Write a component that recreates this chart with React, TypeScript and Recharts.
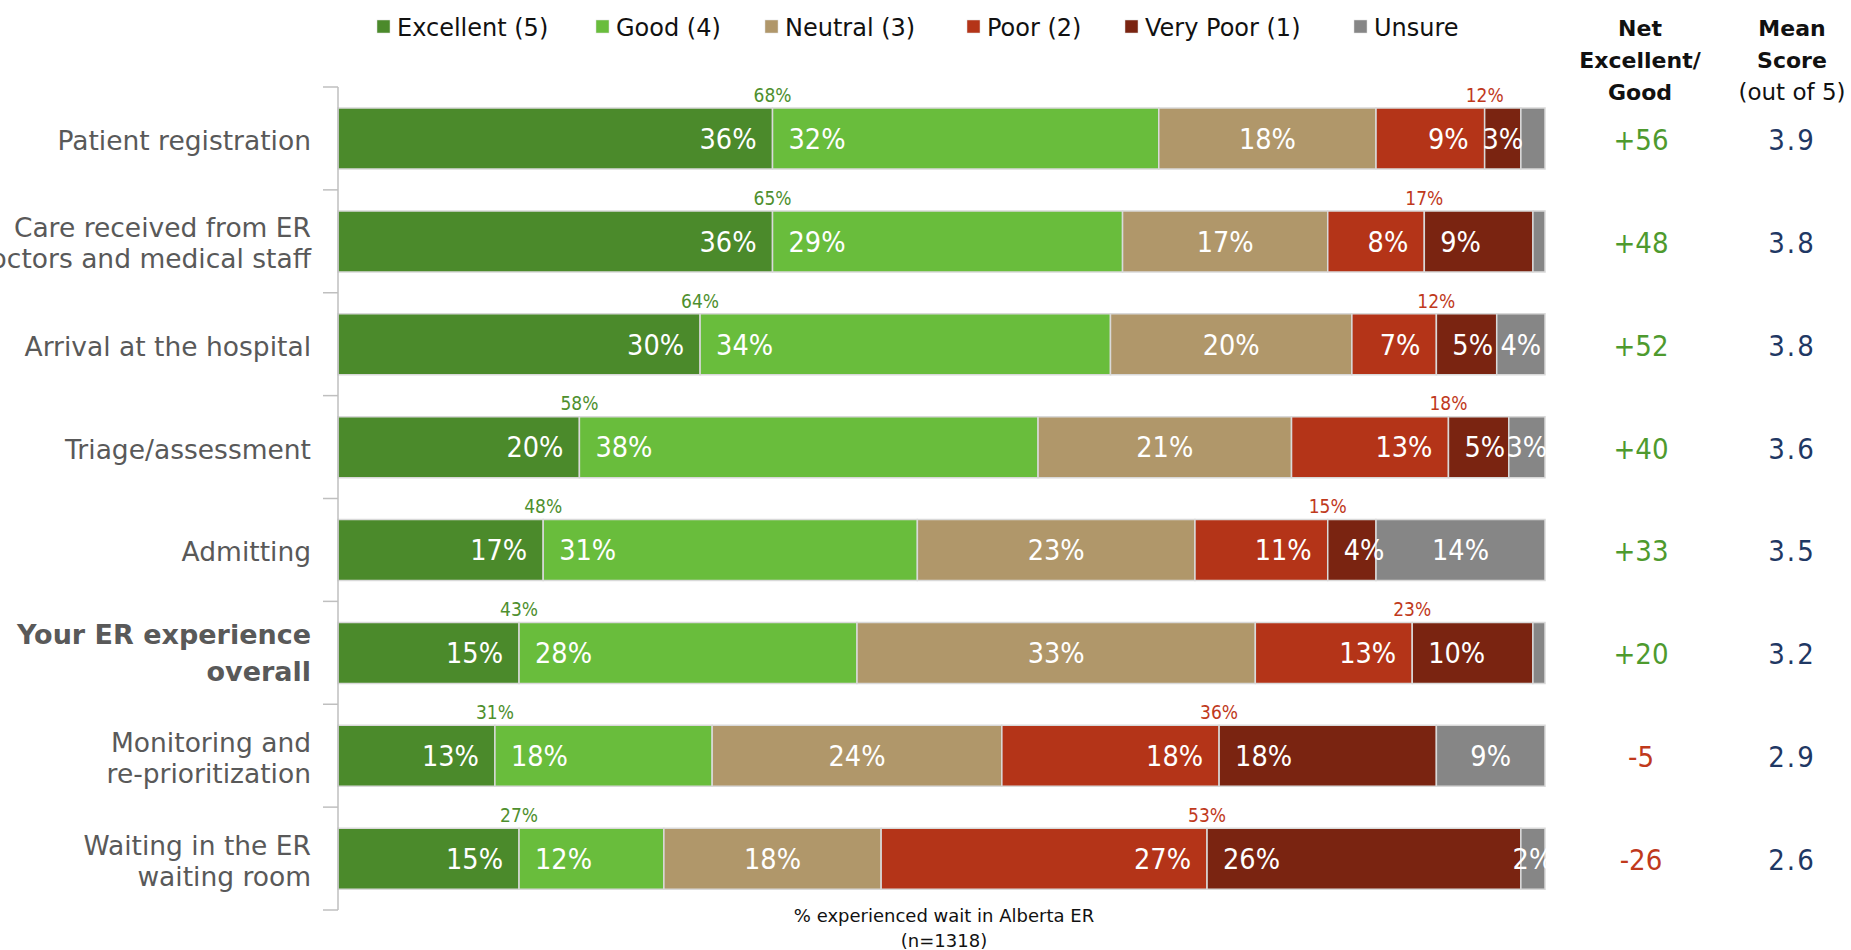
import React from 'react';
import { BarChart, Bar, XAxis, YAxis, LabelList } from 'recharts';

const categories = [
  'Patient registration',
  'Care received from ER\ndoctors and medical staff',
  'Arrival at the hospital',
  'Triage/assessment',
  'Admitting',
  'Your ER experience\noverall',
  'Monitoring and\nre-prioritization',
  'Waiting in the ER\nwaiting room',
];
const excellent = [36, 36, 30, 20, 17, 15, 13, 15];
const good = [32, 29, 34, 38, 31, 28, 18, 12];
const neutral = [18, 17, 20, 21, 23, 33, 24, 18];
const poor = [9, 8, 7, 13, 11, 13, 18, 27];
const veryPoor = [3, 9, 5, 5, 4, 10, 18, 26];
const unsure = [2, 1, 4, 3, 14, 1, 9, 2];
const unsureShown = [false, false, true, true, true, false, true, true];
const topGood = [68, 65, 64, 58, 48, 43, 31, 27];
const topPoor = [12, 17, 12, 18, 15, 23, 36, 53];
const netScore = ['+56', '+48', '+52', '+40', '+33', '+20', '-5', '-26'];
const meanScore = ['3.9', '3.8', '3.8', '3.6', '3.5', '3.2', '2.9', '2.6'];
const highlighted = 'Your ER experience\noverall';

const series = [
  { key: 'excellent', name: 'Excellent (5)', color: '#4b8a2b' },
  { key: 'good', name: 'Good (4)', color: '#69bd3c' },
  { key: 'neutral', name: 'Neutral (3)', color: '#b0976a' },
  { key: 'poor', name: 'Poor (2)', color: '#b43418' },
  { key: 'veryPoor', name: 'Very Poor (1)', color: '#7a2411' },
  { key: 'unsure', name: 'Unsure', color: '#868686' },
];

const data = categories.map((name, i) => ({
  name,
  excellent: excellent[i],
  good: good[i],
  neutral: neutral[i],
  poor: poor[i],
  veryPoor: veryPoor[i],
  unsure: unsure[i],
}));

const W = 1851;
const H = 950;
const TOP = 87;
const BOTTOM = 910;
const AXIS_W = 338;
const BAND = (BOTTOM - TOP) / categories.length;

const textFont = '"DejaVu Sans", sans-serif';
const numFont = '"Liberation Sans Narrow", "DejaVu Sans Condensed", "Liberation Sans", sans-serif';

const CategoryTick = (props: any) => {
  const { y, payload } = props;
  const i = payload.index;
  const label = String(payload.value);
  const lines = label.split('\n');
  const bold = label === highlighted;
  const lh = bold ? 37 : 31;
  const start = y + (bold ? 0 : 2) - ((lines.length - 1) * lh) / 2;
  const neg = netScore[i].startsWith('-');
  return (
    <g>
      <line x1={323} x2={AXIS_W} y1={y - BAND / 2} y2={y - BAND / 2} stroke="#bfbfbf" strokeWidth={1.5} />
      {i === categories.length - 1 && (
        <line x1={323} x2={AXIS_W} y1={y + BAND / 2} y2={y + BAND / 2} stroke="#bfbfbf" strokeWidth={1.5} />
      )}
      <text
        textAnchor="end"
        fill="#595959"
        fontSize={bold ? 27 : 26.5}
        fontWeight={bold ? 'bold' : 'normal'}
        fontFamily={textFont}
      >
        {lines.map((l, k) => (
          <tspan key={k} x={311} y={start + k * lh} dy="0.36em">
            {l}
          </tspan>
        ))}
      </text>
      <text x={1641} y={y + 1} dy="0.36em" textAnchor="middle" fontSize={29} fontFamily={numFont} fill={neg ? '#c0391c' : '#4e9a2e'}>
        {netScore[i]}
      </text>
      <text x={1792} y={y + 1} dy="0.36em" textAnchor="middle" fontSize={29} fontFamily={numFont} fill="#1f3864" letterSpacing={2}>
        {meanScore[i]}
      </text>
    </g>
  );
};

const box = (p: any) => {
  const v = p.viewBox && p.viewBox.width !== undefined ? p.viewBox : p;
  return { x: Number(v.x), y: Number(v.y), w: Number(v.width), h: Number(v.height) };
};

const inBar = (align: 'start' | 'end' | 'middle', shown?: boolean[]) => (p: any) => {
  const { x, y, w, h } = box(p);
  if (shown && !shown[p.index]) return null;
  let tx = x + w / 2;
  let anchor = 'middle';
  if (align === 'end') {
    tx = x + w - 16;
    anchor = 'end';
  } else if (align === 'start' && w > 45) {
    tx = x + 16;
    anchor = 'start';
  }
  return (
    <text x={tx} y={y + h / 2} dy="0.36em" textAnchor={anchor} fill="#ffffff" fontSize={28.5} fontFamily={numFont}>
      {p.value}%
    </text>
  );
};

const above = (values: number[], color: string) => (p: any) => {
  const { x, y, w } = box(p);
  return (
    <text x={x + w} y={y - 13} dy="0.36em" textAnchor="middle" fill={color} fontSize={19} fontFamily={numFont}>
      {values[p.index]}%
    </text>
  );
};

const Overlay = () => (
  <svg width={W} height={H} style={{ position: 'absolute', left: 0, top: 0, pointerEvents: 'none' }}>
    {(() => {
      const xs = [377, 596, 765, 967, 1125, 1354];
      return series.map((s, k) => (
        <g key={s.key}>
          <rect x={xs[k]} y={20} width={13} height={13} fill={s.color} stroke="#e0e0e0" strokeWidth={0.5} />
          <text x={xs[k] + 20} y={27} dy="0.36em" fontSize={24} fontFamily={textFont} fill="#111">
            {s.name}
          </text>
        </g>
      ));
    })()}
    <g fontFamily={textFont} fontSize={22} fill="#111" textAnchor="middle">
      <text x={1640} y={28} dy="0.36em" fontWeight="bold">Net</text>
      <text x={1640} y={60} dy="0.36em" fontWeight="bold">Excellent/</text>
      <text x={1640} y={92} dy="0.36em" fontWeight="bold">Good</text>
      <text x={1792} y={28} dy="0.36em" fontWeight="bold">Mean</text>
      <text x={1792} y={60} dy="0.36em" fontWeight="bold">Score</text>
      <text x={1792} y={92} dy="0.36em" fontSize={23}>(out of 5)</text>
    </g>
    <g fontFamily={textFont} fontSize={18} fill="#111" textAnchor="middle">
      <text x={944} y={916} dy="0.36em">% experienced wait in Alberta ER</text>
      <text x={944} y={941} dy="0.36em">(n=1318)</text>
    </g>
  </svg>
);

const App = () => (
  <div style={{ position: 'absolute', left: 0, top: 0, width: W, height: H, background: '#fff' }}>
    <BarChart
      width={W}
      height={H}
      data={data}
      layout="vertical"
      margin={{ top: TOP, right: W - 1545, bottom: H - BOTTOM, left: 0 }}
      barSize={61}
    >
      <XAxis type="number" domain={[0, 100]} hide />
      <YAxis
        type="category"
        dataKey="name"
        width={AXIS_W}
        axisLine={{ stroke: '#bfbfbf', strokeWidth: 1.5 }}
        tickLine={false}
        tick={<CategoryTick />}
        interval={0}
      />
      <Bar dataKey="excellent" stackId="a" fill={series[0].color} stroke="#d9d9d9" strokeWidth={1.5} isAnimationActive={false}>
        <LabelList dataKey="excellent" content={inBar('end')} />
        <LabelList dataKey="excellent" content={above(topGood, '#4e8f2e')} />
      </Bar>
      <Bar dataKey="good" stackId="a" fill={series[1].color} stroke="#d9d9d9" strokeWidth={1.5} isAnimationActive={false}>
        <LabelList dataKey="good" content={inBar('start')} />
      </Bar>
      <Bar dataKey="neutral" stackId="a" fill={series[2].color} stroke="#d9d9d9" strokeWidth={1.5} isAnimationActive={false}>
        <LabelList dataKey="neutral" content={inBar('middle')} />
      </Bar>
      <Bar dataKey="poor" stackId="a" fill={series[3].color} stroke="#d9d9d9" strokeWidth={1.5} isAnimationActive={false}>
        <LabelList dataKey="poor" content={inBar('end')} />
        <LabelList dataKey="poor" content={above(topPoor, '#c0391c')} />
      </Bar>
      <Bar dataKey="veryPoor" stackId="a" fill={series[4].color} stroke="#d9d9d9" strokeWidth={1.5} isAnimationActive={false}>
        <LabelList dataKey="veryPoor" content={inBar('start')} />
      </Bar>
      <Bar dataKey="unsure" stackId="a" fill={series[5].color} stroke="#d9d9d9" strokeWidth={1.5} isAnimationActive={false}>
        <LabelList dataKey="unsure" content={inBar('middle', unsureShown)} />
      </Bar>
    </BarChart>
    <Overlay />
  </div>
);

export default App;
